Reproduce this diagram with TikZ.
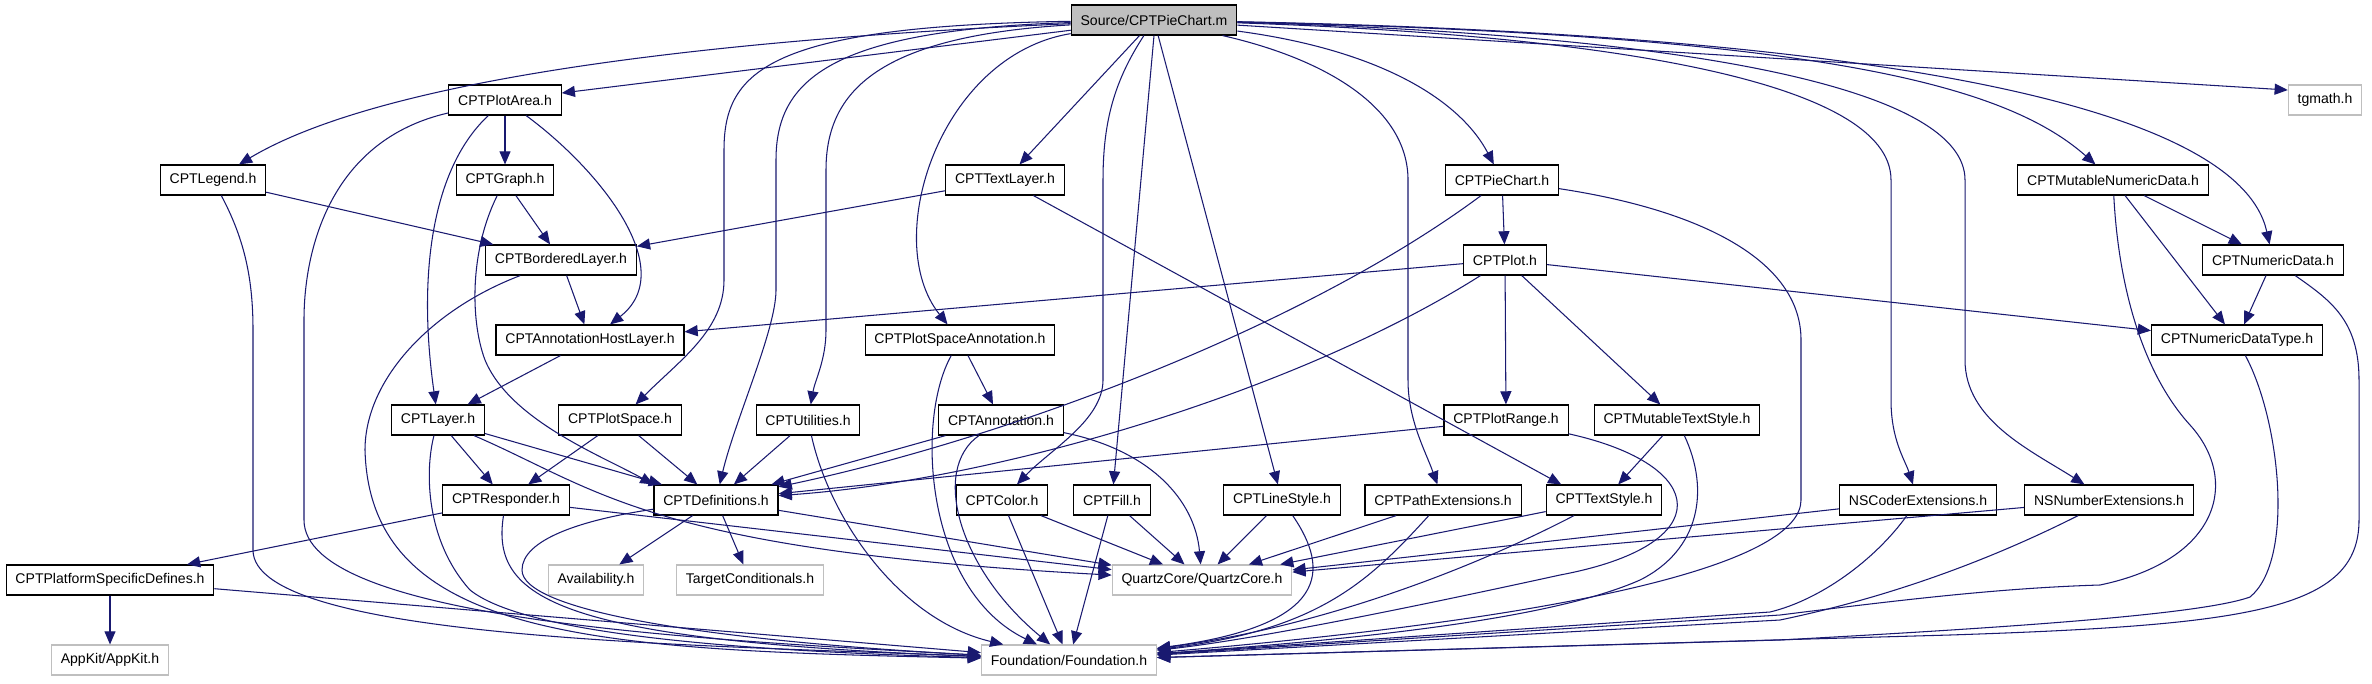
\documentclass[tikz,border=0pt]{standalone}
\usepackage{fontspec}
\setmainfont{Liberation Sans}
\usepackage{xcolor}
\usepackage{tikz}
\usetikzlibrary{arrows.meta, positioning}

\definecolor{edgeblue}{HTML}{191970}

\begin{document}
\begin{tikzpicture}[x=0.02cm, y=-0.02cm,
        file/.style={rectangle, draw=black, fill=white, line width=0.65pt, minimum height=0.6cm, inner xsep=5.3pt, text centered, font=\fontsize{8}{9.6}\selectfont},
        sysfile/.style={file, draw=gray!50},
        srcfile/.style={file, fill=gray!50},
        arrow/.style={-{Triangle[length=7.5pt, width=6.3pt]}, line width=0.6pt, draw=edgeblue}
    ]
        \path[use as bounding box, fill=white] (0,0) rectangle (2372,683);

        \node[srcfile] (src) at (1154,20) {Source/CPTPieChart.m};

        \node[file] (plotarea) at (505,100) {CPTPlotArea.h};
        \node[sysfile] (tgmath) at (2325,100) {tgmath.h};

        \node[file] (legend) at (213,180) {CPTLegend.h};
        \node[file] (graph) at (505,180) {CPTGraph.h};
        \node[file] (textlayer) at (1005,180) {CPTTextLayer.h};
        \node[file] (piechart) at (1502,180) {CPTPieChart.h};
        \node[file] (mutnum) at (2113,180) {CPTMutableNumericData.h};

        \node[file] (bordered) at (561,260) {CPTBorderedLayer.h};
        \node[file] (ploth) at (1505,260) {CPTPlot.h};
        \node[file] (numdata) at (2273,260) {CPTNumericData.h};

        \node[file] (annothost) at (590,340) {CPTAnnotationHostLayer.h};
        \node[file] (psannot) at (960,340) {CPTPlotSpaceAnnotation.h};
        \node[file] (numtype) at (2237,340) {CPTNumericDataType.h};

        \node[file] (layer) at (438,420) {CPTLayer.h};
        \node[file] (plotspace) at (620,420) {CPTPlotSpace.h};
        \node[file] (utilities) at (808,420) {CPTUtilities.h};
        \node[file] (annotation) at (1001,420) {CPTAnnotation.h};
        \node[file] (plotrange) at (1506,420) {CPTPlotRange.h};
        \node[file] (mutstyle) at (1677,420) {CPTMutableTextStyle.h};

        \node[file] (responder) at (506,500) {CPTResponder.h};
        \node[file] (definitions) at (716,500) {CPTDefinitions.h};
        \node[file] (colorh) at (1002,500) {CPTColor.h};
        \node[file] (fillh) at (1112,500) {CPTFill.h};
        \node[file] (linestyle) at (1282,500) {CPTLineStyle.h};
        \node[file] (pathext) at (1443,500) {CPTPathExtensions.h};
        \node[file] (textstyle) at (1604,500) {CPTTextStyle.h};
        \node[file] (nscoder) at (1918,500) {NSCoderExtensions.h};
        \node[file] (nsnumber) at (2109,500) {NSNumberExtensions.h};

        \node[file] (platform) at (110,580) {CPTPlatformSpecificDefines.h};
        \node[sysfile] (availability) at (596,580) {Availability.h};
        \node[sysfile] (target) at (750,580) {TargetConditionals.h};
        \node[sysfile] (quartz) at (1202,580) {QuartzCore/QuartzCore.h};

        \node[sysfile] (appkit) at (110,660) {AppKit/AppKit.h};
        \node[sysfile] (foundation) at (1069,660) {Foundation/Foundation.h};

        % Connectors from the source file
        \draw[arrow] (src) -- (plotarea);
        \draw[arrow] (src) .. controls (700,40) and (380,80) .. (legend);
        \draw[arrow] (src) .. controls (770,26) and (724,70) .. (724,150) -- (724,280) .. controls (724,330) and (680,360) .. (plotspace);
        \draw[arrow] (src) .. controls (830,30) and (776,80) .. (776,160) -- (776,290) .. controls (776,330) and (735,420) .. (definitions);
        \draw[arrow] (src) .. controls (880,36) and (826,90) .. (826,170) -- (826,330) .. controls (826,360) and (815,380) .. (utilities);
        \draw[arrow] (src) .. controls (940,55) and (880,240) .. (psannot);
        \draw[arrow] (src) -- (textlayer);
        \draw[arrow] (src) .. controls (1115,80) and (1103,120) .. (1103,180) -- (1103,380) .. controls (1103,420) and (1050,450) .. (colorh);
        \draw[arrow] (src.south) -- (fillh);
        \draw[arrow] (src) -- (linestyle);
        \draw[arrow] (src) .. controls (1330,60) and (1408,110) .. (1408,180) -- (1408,380) .. controls (1408,420) and (1425,450) .. (pathext);
        \draw[arrow] (src) .. controls (1380,50) and (1460,100) .. (piechart);
        \draw[arrow] (src) .. controls (1600,35) and (1891,80) .. (1891,180) -- (1891,400) .. controls (1891,440) and (1905,460) .. (nscoder);
        \draw[arrow] (src) .. controls (1700,35) and (1965,90) .. (1965,180) -- (1965,360) .. controls (1965,420) and (2030,450) .. (nsnumber);
        \draw[arrow] (src) .. controls (1800,35) and (2000,80) .. (mutnum);
        \draw[arrow] (src) .. controls (1900,35) and (2240,110) .. (numdata);
        \draw[arrow] (src) -- (tgmath.165);

        % CPTPlotArea.h, CPTLegend.h, CPTGraph.h
        \draw[arrow] (plotarea) -- (graph);
        \draw[arrow] (plotarea) .. controls (430,170) and (418,280) .. (layer);
        \draw[arrow] (plotarea) .. controls (600,170) and (680,270) .. (annothost);
        \draw[arrow] (plotarea) .. controls (330,140) and (304,250) .. (304,320) -- (304,520) .. controls (304,620) and (700,640) .. (foundation);
        \draw[arrow] (legend) -- (bordered);
        \draw[arrow] (legend) .. controls (245,240) and (253,280) .. (253,330) -- (253,550) .. controls (253,640) and (700,645) .. (foundation);
        \draw[arrow] (graph) -- (bordered);
        \draw[arrow] (graph) .. controls (470,250) and (470,320) .. (485,360) .. controls (510,420) and (600,455) .. (definitions.north west);

        % CPTBorderedLayer.h, CPTAnnotationHostLayer.h, CPTLayer.h
        \draw[arrow] (bordered) -- (annothost);
        \draw[arrow] (bordered) .. controls (430,310) and (365,380) .. (365,450) .. controls (370,640) and (600,650) .. (foundation);
        \draw[arrow] (annothost) -- (layer);
        \draw[arrow] (layer) -- (responder);
        \draw[arrow] (layer) -- (definitions);
        \draw[arrow] (layer) .. controls (600,490) and (650,550) .. (quartz);
        \draw[arrow] (layer) .. controls (425,470) and (425,540) .. (470,590) .. controls (520,630) and (700,650) .. (foundation);

        % CPTResponder.h, CPTPlatformSpecificDefines.h
        \draw[arrow] (responder) -- (platform);
        \draw[arrow] (responder) -- (quartz);
        \draw[arrow] (responder) .. controls (490,600) and (560,640) .. (foundation);
        \draw[arrow] (platform) -- (appkit);
        \draw[arrow] (platform) -- (foundation);

        % CPTPlotSpace.h, CPTUtilities.h, CPTPlotSpaceAnnotation.h, CPTAnnotation.h
        \draw[arrow] (plotspace) -- (responder);
        \draw[arrow] (plotspace) -- (definitions);
        \draw[arrow] (utilities) -- (definitions);
        \draw[arrow] (utilities) .. controls (830,520) and (900,620) .. (foundation);
        \draw[arrow] (psannot) -- (annotation);
        \draw[arrow] (psannot) .. controls (915,420) and (925,590) .. (foundation);
        \draw[arrow] (annotation) -- (definitions);
        \draw[arrow] (annotation) .. controls (1150,450) and (1195,500) .. (quartz);
        \draw[arrow] (annotation) .. controls (930,470) and (960,570) .. (foundation);

        % CPTDefinitions.h
        \draw[arrow] (definitions) -- (availability);
        \draw[arrow] (definitions) -- (target);
        \draw[arrow] (definitions) -- (quartz);
        \draw[arrow] (definitions) .. controls (580,520) and (522,540) .. (522,570) .. controls (522,610) and (700,640) .. (foundation);

        % middle row of headers
        \draw[arrow] (colorh) -- (quartz);
        \draw[arrow] (colorh) -- (foundation);
        \draw[arrow] (fillh) -- (quartz);
        \draw[arrow] (fillh) -- (foundation);
        \draw[arrow] (linestyle) -- (quartz);
        \draw[arrow] (linestyle) .. controls (1330,570) and (1330,625) .. (foundation);
        \draw[arrow] (pathext) -- (quartz);
        \draw[arrow] (pathext) .. controls (1370,580) and (1320,630) .. (foundation);
        \draw[arrow] (textstyle) -- (quartz);
        \draw[arrow] (textstyle) .. controls (1450,580) and (1300,630) .. (foundation);

        % CPTPieChart.h, CPTPlot.h, CPTTextLayer.h
        \draw[arrow] (piechart) -- (ploth);
        \draw[arrow] (piechart) .. controls (1300,330) and (1000,440) .. (definitions);
        \draw[arrow] (piechart) .. controls (1700,210) and (1801,260) .. (1801,340) -- (1801,500) .. controls (1801,560) and (1600,615) .. (foundation);
        \draw[arrow] (ploth) -- (annothost);
        \draw[arrow] (ploth) .. controls (1300,390) and (1000,480) .. (definitions);
        \draw[arrow] (ploth) -- (plotrange);
        \draw[arrow] (ploth) -- (mutstyle);
        \draw[arrow] (ploth) -- (numtype);
        \draw[arrow] (textlayer) -- (bordered);
        \draw[arrow] (textlayer) -- (textstyle.160);

        % CPTPlotRange.h, CPTMutableTextStyle.h
        \draw[arrow] (plotrange) -- (definitions);
        \draw[arrow] (plotrange) .. controls (1710,465) and (1720,545) .. (1560,575) .. controls (1400,610) and (1250,640) .. (foundation);
        \draw[arrow] (mutstyle) -- (textstyle);
        \draw[arrow] (mutstyle) .. controls (1710,490) and (1700,550) .. (1640,580) .. controls (1550,620) and (1350,640) .. (foundation);

        % NS extensions
        \draw[arrow] (nscoder) -- (quartz);
        \draw[arrow] (nscoder) .. controls (1875,560) and (1820,600) .. (1770,612) -- (foundation);
        \draw[arrow] (nsnumber) -- (quartz);
        \draw[arrow] (nsnumber) .. controls (2000,555) and (1900,595) .. (1780,620) -- (foundation);

        % numeric data headers
        \draw[arrow] (mutnum) -- (numdata);
        \draw[arrow] (mutnum) -- (numtype);
        \draw[arrow] (mutnum) .. controls (2118,280) and (2140,370) .. (2190,425) .. controls (2240,480) and (2220,560) .. (2100,585) .. controls (2000,588) and (1900,600) .. (1780,615) -- (foundation);
        \draw[arrow] (numdata) -- (numtype);
        \draw[arrow] (numdata) .. controls (2330,300) and (2359,320) .. (2359,380) -- (2359,520) .. controls (2359,610) and (2250,625) .. (1950,635) -- (foundation);
        \draw[arrow] (numtype) .. controls (2280,420) and (2295,560) .. (2250,597) .. controls (2200,615) and (2000,628) .. (1780,640) -- (foundation);

    \end{tikzpicture}
\end{document}
